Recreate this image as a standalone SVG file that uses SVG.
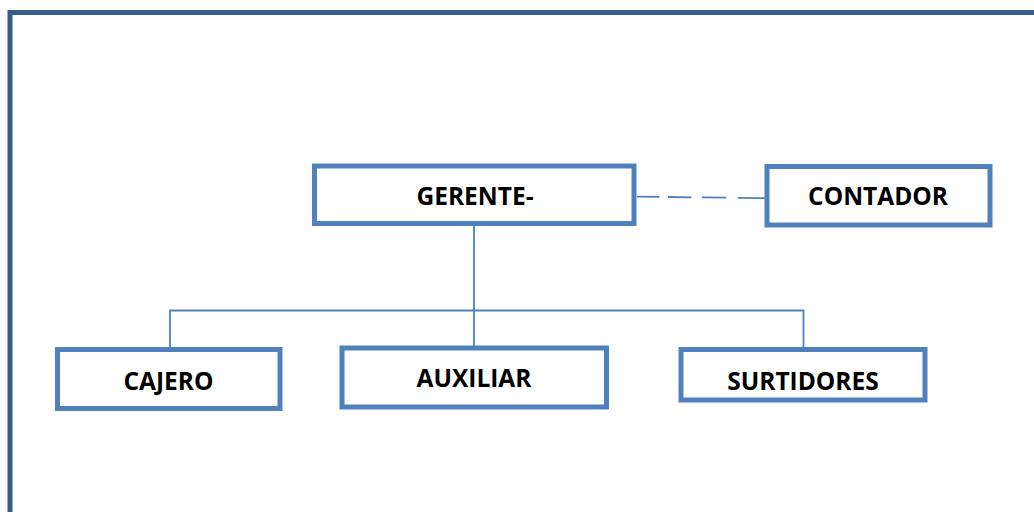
<svg xmlns="http://www.w3.org/2000/svg" width="1034" height="512" viewBox="0 0 1034 512">
  <style>
    .box { fill: #ffffff; stroke: #4f81bd; stroke-width: 5; }
    .lbl { font-family: "Open Sans", "Liberation Sans", sans-serif; font-weight: 700; font-size: 24.5px; fill: #000000; text-anchor: middle; }
    .con { fill: none; stroke: #4f81bd; stroke-width: 1.8; }
  </style>
  <rect x="0" y="0" width="1034" height="512" fill="#ffffff"/>
  <path d="M10,512 V12.5 H1034" fill="none" stroke="#385d8a" stroke-width="5"/>
  <g id="connectors">
    <line class="con" x1="637" y1="196.6" x2="765" y2="198.2" stroke-dasharray="22.5 8.5 23.5 10.5 24.5 11.5 28"/>
    <line class="con" x1="474" y1="226" x2="474" y2="346"/>
    <polyline class="con" points="170,347 170,310.5 803.5,310.5 803.5,347"/>
  </g>
  <g id="gerente">
    <rect class="box" x="314.5" y="166" width="319.5" height="57.5"/>
    <text class="lbl" x="475" y="205">GERENTE-</text>
  </g>
  <g id="contador">
    <rect class="box" x="767" y="166.5" width="223" height="58.5"/>
    <text class="lbl" x="878" y="205">CONTADOR</text>
  </g>
  <g id="cajero">
    <rect class="box" x="57.5" y="349.5" width="222.5" height="59"/>
    <text class="lbl" x="168.5" y="389.5">CAJERO</text>
  </g>
  <g id="auxiliar">
    <rect class="box" x="342" y="348" width="264.5" height="59"/>
    <text class="lbl" x="474" y="387">AUXILIAR</text>
  </g>
  <g id="surtidores">
    <rect class="box" x="681" y="349.5" width="244" height="50.5"/>
    <text class="lbl" x="803" y="389.5">SURTIDORES</text>
  </g>
</svg>
